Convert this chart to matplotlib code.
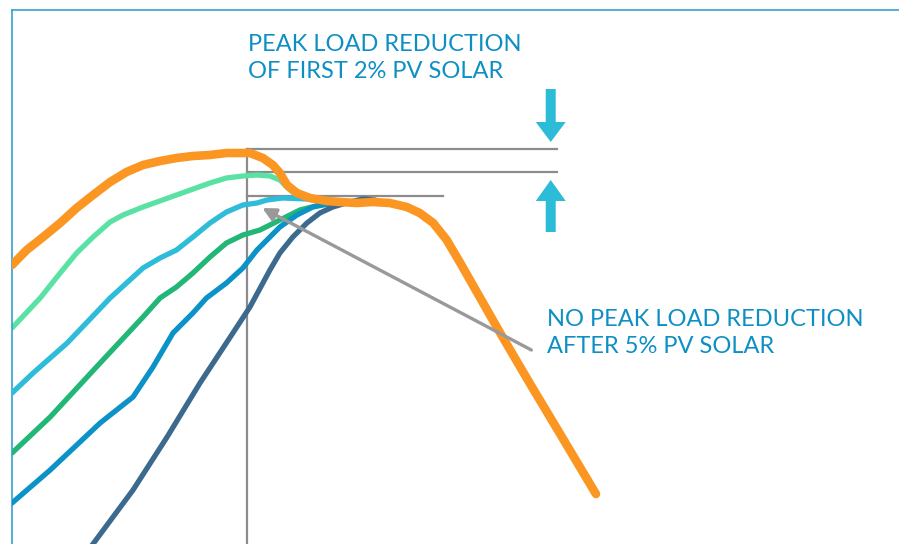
import matplotlib
matplotlib.use("Agg")
import matplotlib.pyplot as plt
from matplotlib.patches import FancyArrow

# hour of day vs. load (arbitrary units)
orange_h = [10.00, 10.25, 10.53, 10.82, 11.10, 11.38, 11.67, 11.95, 12.23, 12.52, 12.80, 13.08, 13.37, 13.65,
            13.93, 14.05, 14.27, 14.44, 14.56, 14.68, 14.85, 15.07, 15.36, 15.58, 15.87, 16.14, 16.43,
            16.72, 16.94, 17.17, 17.40, 17.63, 17.97, 18.31, 18.82, 19.33, 19.94]
orange_l = [29.5, 31.0, 32.3, 33.7, 35.2, 36.5, 37.8, 38.8, 39.5, 39.9, 40.2, 40.4, 40.5, 40.7,
            40.7, 40.7, 40.2, 39.5, 38.7, 37.5, 36.7, 36.2, 35.9, 35.8, 35.7, 35.8, 35.7,
            35.3, 34.7, 33.7, 32.0, 29.7, 26.2, 22.7, 17.6, 12.6, 6.6]

lgreen_h = [10.00, 10.48, 10.82, 11.10, 11.38, 11.67, 11.89, 12.23, 12.80, 13.37, 13.65, 13.93, 14.17,
            14.39, 14.56, 14.73, 14.85, 15.16, 15.58]
lgreen_l = [23.2, 26.2, 28.7, 30.7, 32.3, 33.8, 34.5, 35.3, 36.5, 37.7, 38.2, 38.4, 38.5,
            38.4, 38.0, 37.0, 36.5, 36.0, 35.9]

cyan_h = [10.00, 10.36, 10.94, 11.67, 11.95, 12.23, 12.52, 12.80, 13.08, 13.37, 13.65, 13.93, 14.17,
          14.34, 14.61, 15.02, 15.36, 15.75]
cyan_l = [16.7, 18.7, 21.7, 26.2, 27.7, 29.2, 30.2, 31.0, 32.3, 33.7, 34.8, 35.5, 35.7,
          36.0, 36.2, 36.1, 35.8, 35.8]

green_h = [10.00, 10.65, 11.50, 12.23, 12.52, 12.80, 13.08, 13.37, 13.65, 13.93, 14.22, 14.56, 14.90,
           15.24, 15.53, 15.92]
green_l = [10.7, 14.3, 19.7, 24.3, 26.2, 27.3, 28.7, 30.3, 31.7, 32.5, 33.0, 34.0, 35.0,
           35.5, 35.7, 35.8]

blue_h = [10.00, 10.65, 11.50, 12.06, 12.40, 12.74, 13.08, 13.31, 13.65, 13.93, 14.17, 14.34, 14.56,
          14.85, 15.12, 15.46, 15.92]
blue_l = [5.7, 9.0, 13.7, 16.3, 19.3, 22.7, 24.7, 26.2, 27.7, 29.2, 31.0, 32.0, 33.3,
          34.5, 35.3, 35.7, 35.8]

dblue_h = [11.29, 12.06, 12.64, 13.20, 13.76, 14.05, 14.39, 14.56, 14.78, 15.02, 15.24, 15.46, 15.75,
           15.97, 16.18]
dblue_l = [0.9, 7.0, 12.3, 17.7, 22.7, 25.3, 29.0, 30.7, 32.3, 33.7, 34.7, 35.3, 35.8,
           36.1, 36.0]

peak_hour = 14.0
peak_levels = [41.1, 38.8, 36.4]
level_ends = [19.28, 19.28, 17.34]

fig = plt.figure(figsize=(8.99, 5.44), dpi=100)
ax = fig.add_axes([12 / 899, 0, 1, 534 / 544])
ax.set_xlim(10, 10 + 899 / 58.75)
ax.set_ylim(1.6, 55.0)
for s in ["right", "bottom"]:
    ax.spines[s].set_visible(False)
for s in ["left", "top"]:
    ax.spines[s].set_color("#3a9fd0")
    ax.spines[s].set_linewidth(1.2)
ax.set_xticks([])
ax.set_yticks([])

# grey reference lines
ax.plot([peak_hour, peak_hour], [0, peak_levels[0]], color="#8c8c8c", lw=1.6, zorder=1)
for lvl, end in zip(peak_levels, level_ends):
    ax.plot([peak_hour, end], [lvl, lvl], color="#8c8c8c", lw=1.6, zorder=1)

kw = dict(solid_capstyle="round", solid_joinstyle="round")
ax.plot(lgreen_h, lgreen_l, color="#5ae2a4", lw=3.8, zorder=2, **kw)
ax.plot(cyan_h, cyan_l, color="#2fbcd8", lw=3.8, zorder=3, **kw)
ax.plot(green_h, green_l, color="#22b677", lw=3.8, zorder=3, **kw)
ax.plot(blue_h, blue_l, color="#0b92c6", lw=3.8, zorder=4, **kw)
ax.plot(dblue_h, dblue_l, color="#3c6a8e", lw=3.8, zorder=5, **kw)
ax.plot(orange_h, orange_l, color="#fb9622", lw=6.2, zorder=6, **kw)

# blue arrows marking the reduction
ax.add_patch(FancyArrow(19.17, 47.1, 0, -5.3, width=0.17, head_width=0.51, head_length=2.0,
                        length_includes_head=True, color="#2dbcd8", lw=0))
ax.add_patch(FancyArrow(19.17, 32.8, 0, 5.2, width=0.17, head_width=0.51, head_length=2.1,
                        length_includes_head=True, color="#2dbcd8", lw=0))

# grey pointer arrow
ax.annotate("", xy=(14.26, 35.2), xytext=(18.84, 21.0),
            arrowprops=dict(arrowstyle="-|>", color="#999999", lw=2.4, mutation_scale=20,
                            shrinkA=0, shrinkB=0), zorder=7)

tkw = dict(fontfamily="Lato", fontsize=17, color="#0d8fc4", va="baseline", ha="left")
ax.text(14.02, 50.9, "PEAK LOAD REDUCTION", **tkw)
ax.text(14.02, 48.23, "OF FIRST 2% PV SOLAR", **tkw)
ax.text(19.11, 23.4, "NO PEAK LOAD REDUCTION", **tkw)
ax.text(19.11, 20.7, "AFTER 5% PV SOLAR", **tkw)

plt.savefig("out.png", dpi=100)
